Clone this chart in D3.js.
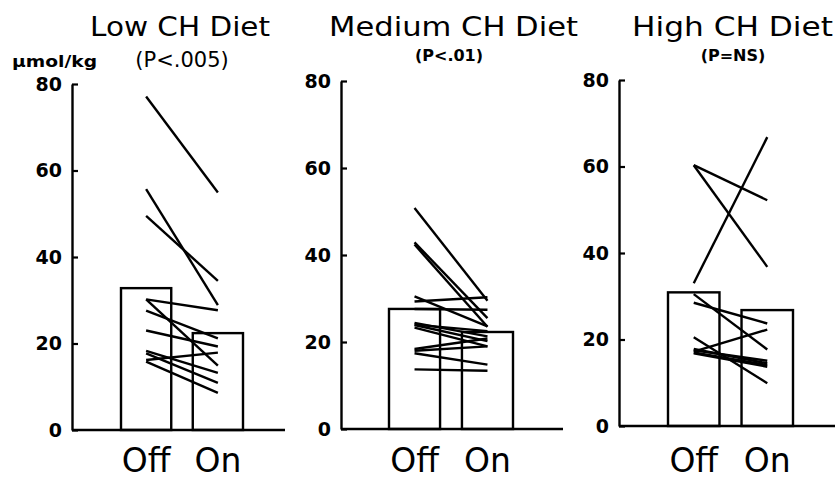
<!DOCTYPE html>
<html>
<head>
<meta charset="utf-8">
<script src="https://cdn.jsdelivr.net/npm/d3@7"></script>
<style>
  body { margin: 0; background: #fff; }
  svg { display: block; }
  .tick text { font-family: "DejaVu Sans", sans-serif; font-weight: bold; font-size: 19px; fill: #000; }
</style>
</head>
<body>
<svg id="chart" width="835" height="479"></svg>
<script>
// ---- data ----
const diets = ["Low CH Diet", "Medium CH Diet", "High CH Diet"]
const pLabels = ["(P<.005)", "(P<.01)", "(P=NS)"]
const phases = ["Off", "On"]
const yTicks = [0, 20, 40, 60, 80]
const meanOff = [32.8, 27.6, 30.9]
const meanOn = [22.4, 22.3, 26.8]

// each pair = [off, on] for one subject
const lowPairs = [
  [77.1, 54.9], [55.7, 28.9], [49.5, 34.5], [30.2, 27.7], [30.2, 14.9],
  [27.6, 21.2], [23.0, 19.3], [18.3, 13.2], [17.7, 10.9], [16.2, 17.9], [15.8, 8.6]
]
const mediumPairs = [
  [50.8, 29.5], [42.9, 25.5], [42.4, 23.5], [30.5, 23.6], [29.3, 30.3],
  [27.6, 27.4], [24.4, 21.3], [23.9, 20.2], [23.3, 19.0], [24.0, 22.5],
  [18.4, 20.8], [17.4, 14.8], [18.0, 19.0], [13.7, 13.4]
]
const highPairs = [
  [33.0, 66.8], [60.3, 52.2], [60.3, 36.8], [30.5, 17.7], [28.5, 23.7],
  [20.5, 9.9], [17.2, 22.3], [17.5, 15.1], [17.0, 14.1], [16.8, 13.7], [17.8, 14.5]
]
const allPairs = [lowPairs, mediumPairs, highPairs]

// ---- layout (pixels) ----
const panels = [
  { axisX: 72,  axisEnd: 285, y0: 430, yTop: 84, barL: 121, barR: 243, titleX: 180,   titleW: 180, subX: 182, subBold: false },
  { axisX: 341, axisEnd: 563, y0: 429, yTop: 81, barL: 389, barR: 513, titleX: 453.5, titleW: 249, subX: 449, subBold: true },
  { axisX: 619, axisEnd: 835, y0: 426, yTop: 80, barL: 668, barR: 793, titleX: 732.5, titleW: 201, subX: 733, subBold: true }
]

const svg = d3.select("#chart")
svg.append("rect").attr("width", 835).attr("height", 479).attr("fill", "#fff")

const font = "DejaVu Sans, sans-serif"

// unit label on the first axis
svg.append("text")
  .attr("x", 12).attr("y", 67)
  .attr("font-family", font).attr("font-weight", "bold").attr("font-size", 15)
  .attr("textLength", 85).attr("lengthAdjust", "spacingAndGlyphs")
  .text("µmol/kg")

panels.forEach((p, i) => {
  const g = svg.append("g")

  const y = d3.scaleLinear().domain([0, 80]).range([p.y0, p.yTop])
  const x = d3.scaleBand().domain(phases).range([p.barL, p.barR]).paddingInner(0.3).paddingOuter(0)
  const cx = d => x(d) + x.bandwidth() / 2

  // title + p-value
  g.append("text")
    .attr("x", p.titleX).attr("y", 36)
    .attr("text-anchor", "middle")
    .attr("font-family", font).attr("font-size", 26)
    .attr("textLength", p.titleW).attr("lengthAdjust", "spacingAndGlyphs")
    .text(diets[i])

  g.append("text")
    .attr("x", p.subX).attr("y", p.subBold ? 61 : 67)
    .attr("text-anchor", "middle")
    .attr("font-family", font)
    .attr("font-weight", p.subBold ? "bold" : "normal")
    .attr("font-size", p.subBold ? 16 : 21)
    .text(pLabels[i])

  // y axis, ticks pointing inward
  const axis = g.append("g")
    .attr("transform", `translate(${p.axisX},0)`)
    .call(d3.axisLeft(y).tickValues(yTicks).tickSizeInner(-6).tickSizeOuter(0).tickPadding(10))
  axis.select(".domain").attr("stroke-width", 2.4)
  axis.selectAll(".tick line").attr("stroke-width", 2.2)

  // baseline
  g.append("line")
    .attr("x1", p.axisX).attr("x2", p.axisEnd)
    .attr("y1", y(0)).attr("y2", y(0))
    .attr("stroke", "#000").attr("stroke-width", 2.4)

  // mean bars
  const means = [meanOff[i], meanOn[i]]
  g.selectAll(".bar")
    .data(phases)
    .enter()
    .append("rect")
    .attr("class", "bar")
    .attr("x", d => x(d))
    .attr("y", (d, k) => y(means[k]))
    .attr("width", x.bandwidth())
    .attr("height", (d, k) => y(0) - y(means[k]))
    .attr("fill", "none")
    .attr("stroke", "#000")
    .attr("stroke-width", 2.4)

  // individual subjects
  g.selectAll(".pair")
    .data(allPairs[i])
    .enter()
    .append("line")
    .attr("class", "pair")
    .attr("x1", cx("Off")).attr("x2", cx("On"))
    .attr("y1", d => y(d[0])).attr("y2", d => y(d[1]))
    .attr("stroke", "#000")
    .attr("stroke-width", 2.4)

  // category labels
  g.selectAll(".cat")
    .data(phases)
    .enter()
    .append("text")
    .attr("class", "cat")
    .attr("x", d => cx(d))
    .attr("y", 472)
    .attr("text-anchor", "middle")
    .attr("font-family", font).attr("font-size", 33)
    .text(d => d)
})
</script>
</body>
</html>
